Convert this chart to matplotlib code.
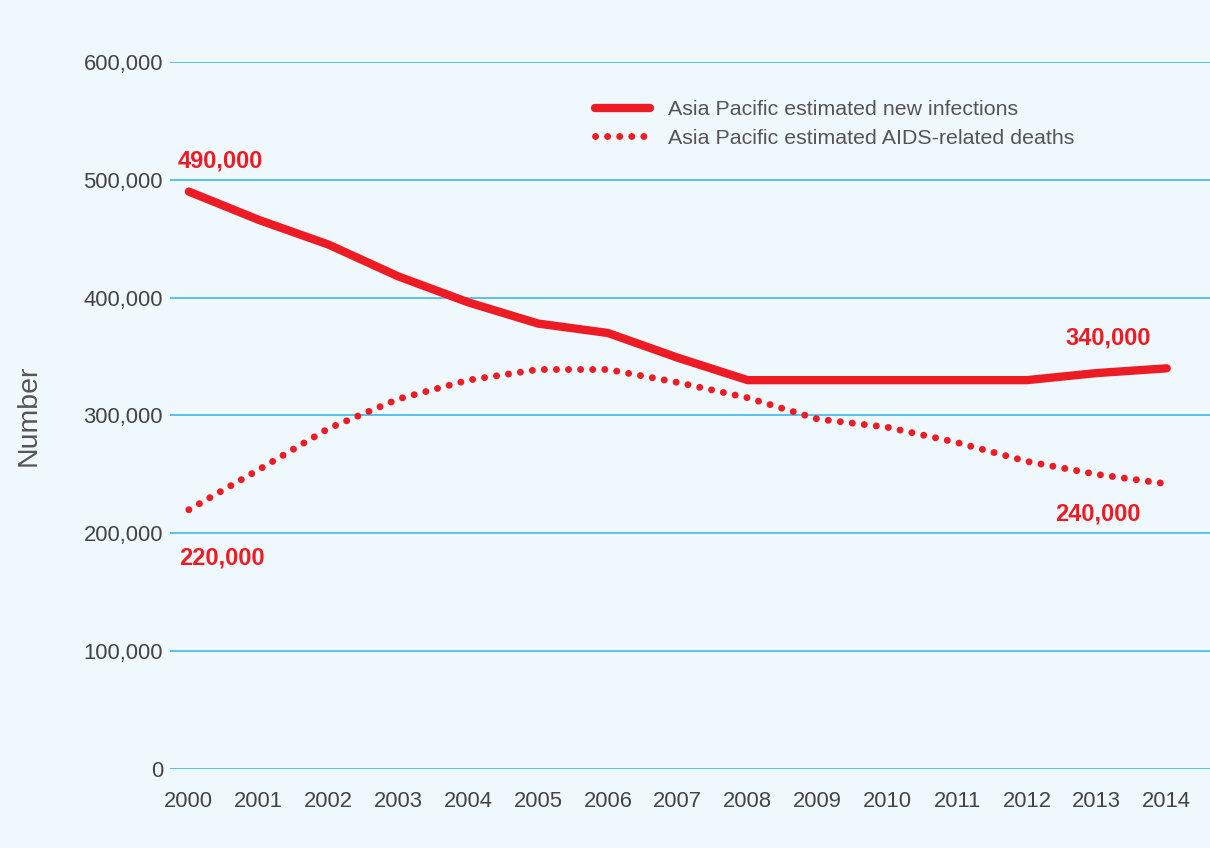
import matplotlib.pyplot as plt
from matplotlib.ticker import FuncFormatter

plt.rcParams['font.family'] = ['Liberation Sans', 'DejaVu Sans']

years = list(range(2000, 2015))
new_infections = [490000, 466000, 445000, 418000, 396000, 378000, 370000, 349000,
                  330000, 330000, 330000, 330000, 330000, 336000, 340000]
aids_deaths = [220000, 254000, 289000, 314000, 330000, 339000, 339000, 328000,
               315000, 297000, 290000, 277000, 261000, 250000, 242000]

red = '#ED1C24'
grey = '#444444'
bg = '#EFF8FD'
grid_col = '#3DB8E8'

fig = plt.figure(figsize=(12.1, 8.48), dpi=100, facecolor=bg)
ax = fig.add_axes([0.1405, 0.0932, 0.8595, 0.8337], facecolor=bg)

ax.plot(years, new_infections, color=red, lw=6, solid_capstyle='round',
        solid_joinstyle='round', clip_on=False,
        label='Asia Pacific estimated new infections')
ax.plot(years, aids_deaths, color=red, lw=5, linestyle=(0, (0.01, 1.73)),
        dash_capstyle='round', clip_on=False,
        label='Asia Pacific estimated AIDS-related deaths')

ax.set_xlim(1999.73, 2014.62)
ax.set_ylim(0, 600000)
ax.set_yticks(range(0, 600001, 100000))
ax.yaxis.set_major_formatter(FuncFormatter(lambda v, p: '{:,.0f}'.format(v)))
ax.set_xticks(years)
ax.grid(axis='y', color=grid_col, lw=1.2)
ax.set_axisbelow(True)
for s in ax.spines.values():
    s.set_visible(False)
ax.tick_params(length=0, labelsize=15.8, labelcolor=grey)
ax.tick_params(axis='y', pad=5)
ax.tick_params(axis='x', pad=16)

ax.set_ylabel('Number', fontsize=20.5, color='#555555', labelpad=30)

lbl = dict(color=red, fontsize=17, fontweight='bold', ha='center', va='center')
ax.annotate('490,000', (years[0], new_infections[0]), xytext=(31, 31), textcoords='offset pixels', **lbl)
ax.annotate('220,000', (years[0], aids_deaths[0]), xytext=(33, -48), textcoords='offset pixels', **lbl)
ax.annotate('340,000', (years[-1], new_infections[-1]), xytext=(-59, 30), textcoords='offset pixels', **lbl)
ax.annotate('240,000', (years[-1], aids_deaths[-1]), xytext=(-69, -30), textcoords='offset pixels', **lbl)

leg = ax.legend(loc='upper left', bbox_to_anchor=(0.39, 0.973), frameon=False,
                fontsize=15.4, handlelength=2.6, handletextpad=0.8, labelspacing=0.45)
for t in leg.get_texts():
    t.set_color('#555555')

fig.savefig('out.png', dpi=100, facecolor=bg)
